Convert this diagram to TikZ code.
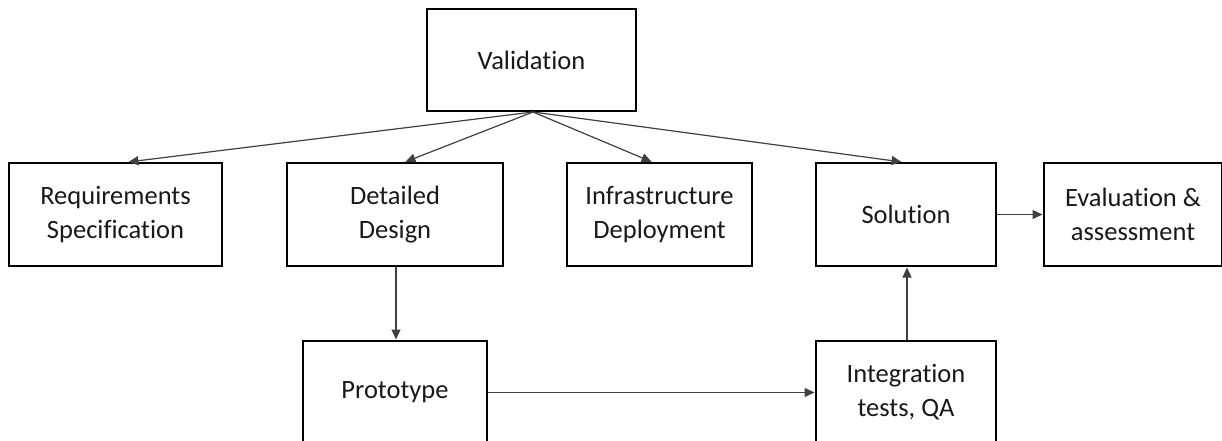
\documentclass[tikz,border=0pt]{standalone}
\usepackage{fontspec}
\setmainfont{Carlito}[Ligatures=CommonOff, RawFeature={-liga;-clig}]
\usetikzlibrary{arrows.meta}
\begin{document}
\begin{tikzpicture}[x=1pt,y=-1pt,
  box/.style={draw=black, line width=2pt, fill=white, inner sep=0pt,
    align=center, font=\fontsize{26.5}{34}\selectfont, text=black!90},
  link/.style={draw=black!75, line width=1.2pt,
    -{Triangle[length=10pt,width=9pt]}, shorten >=0.5pt}]
\useasboundingbox (0,0) rectangle (1222,441);
\clip (0,0) rectangle (1222,441);
\fill[white] (0,0) rectangle (1222,441);

% upper row
\node[box, minimum width=209pt, minimum height=102pt] (val) at (531.5,60) {Validation};
\node[box, minimum width=213pt, minimum height=103pt] (req) at (115.5,214.5) {Requirements\\Specification};
\node[box, minimum width=216pt, minimum height=103pt] (des) at (395,214.5) {Detailed\\Design};
\node[box, minimum width=185pt, minimum height=103pt] (inf) at (659.5,214.5) {Infrastructure\\Deployment};
\node[box, minimum width=180pt, minimum height=103pt] (sol) at (906,214.5) {Solution};
\node[box, minimum width=178pt, minimum height=103pt] (eva) at (1133,214.5) {Evaluation \&\\assessment};

% lower row
\node[box, minimum width=184pt, minimum height=103pt] (pro) at (395,392.5) {Prototype};
\node[box, minimum width=180pt, minimum height=103pt] (int) at (906,392.5) {Integration\\tests, QA};

% fan-out from the validation step
\draw[link] ([xshift=1.5pt]val.south) -- ([xshift=12.5pt]req.north);
\draw[link] ([xshift=1.5pt]val.south) -- ([xshift=10pt]des.north);
\draw[link] ([xshift=1.5pt]val.south) -- ([xshift=-7.5pt]inf.north);
\draw[link] ([xshift=1.5pt]val.south) -- ([xshift=-4pt]sol.north);

% main flow
\draw[link] ([xshift=1pt]des.south) -- ([xshift=1pt]pro.north);
\draw[link] (pro.east) -- (pro.east -| int.west);
\draw[link] ([xshift=1pt]int.north) -- ([xshift=1pt]sol.south);
\draw[link] (sol.east) -- (eva.west);
\end{tikzpicture}
\end{document}
